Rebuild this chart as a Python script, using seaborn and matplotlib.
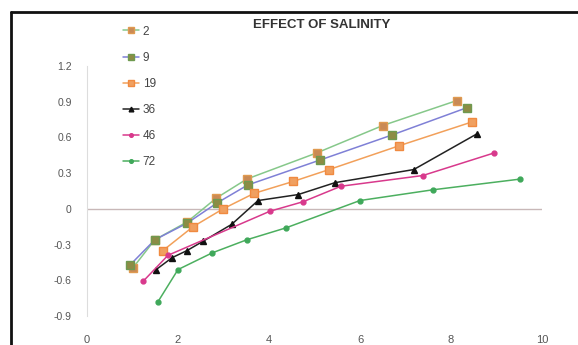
import matplotlib
matplotlib.use("Agg")
import matplotlib.pyplot as plt
import seaborn as sns
import pandas as pd
from matplotlib.lines import Line2D

sns.set_style("white")
plt.rcParams['font.family'] = ['Liberation Sans', 'DejaVu Sans']

# Data
labels = ["2", "9", "19", "36", "46", "72"]
x_2 = [1.0, 1.49, 2.2, 2.84, 3.51, 5.05, 6.5, 8.13]
y_2 = [-0.5, -0.26, -0.11, 0.09, 0.25, 0.47, 0.70, 0.91]
x_9 = [0.95, 1.49, 2.2, 2.86, 3.53, 5.12, 6.7, 8.35]
y_9 = [-0.47, -0.26, -0.12, 0.05, 0.20, 0.41, 0.62, 0.85]
x_19 = [1.67, 2.33, 2.99, 3.67, 4.53, 5.32, 6.86, 8.46]
y_19 = [-0.35, -0.15, 0.0, 0.13, 0.23, 0.33, 0.53, 0.73]
x_36 = [1.52, 1.87, 2.2, 2.56, 3.18, 3.76, 4.64, 5.45, 7.18, 8.57]
y_36 = [-0.51, -0.41, -0.35, -0.27, -0.13, 0.07, 0.12, 0.22, 0.33, 0.63]
x_46 = [1.23, 1.78, 4.02, 4.75, 5.58, 7.38, 8.95]
y_46 = [-0.61, -0.39, -0.02, 0.06, 0.19, 0.28, 0.47]
x_72 = [1.56, 2.0, 2.75, 3.51, 4.37, 6.0, 7.6, 9.52]
y_72 = [-0.78, -0.51, -0.37, -0.26, -0.16, 0.07, 0.16, 0.25]
x_ticks = [0, 2, 4, 6, 8, 10]
y_ticks = [-0.9, -0.6, -0.3, 0, 0.3, 0.6, 0.9, 1.2]
y_ticklabels = ["-0.9", "-0.6", "-0.3", "0", "0.3", "0.6", "0.9", "1.2"]
title = "EFFECT OF SALINITY"

xs = [x_2, x_9, x_19, x_36, x_46, x_72]
ys = [y_2, y_9, y_19, y_36, y_46, y_72]

line_colors = ["#86c88a", "#7f80d6", "#f2a05a", "#222222", "#d8398c", "#4caf5f"]
marker_styles = ["s", "s", "s", "^", "o", "o"]
marker_faces = ["#c98a55", "#8c8c45", "#f0a060", "#111111", "#d8398c", "#3fa85a"]
marker_edges = ["#e09a50", "#6f9a50", "#f08a40", "#111111", "#d8398c", "#3fa85a"]
marker_sizes = [5.5, 5.5, 5.5, 4.5, 3.5, 3.5]

fig = plt.figure(figsize=(5.78, 3.45), dpi=100)
W, H = 578, 345
ax = fig.add_axes([87 / W, 1 - 316 / H, 455 / W, (316 - 66) / H])

for lab, x, y, lc, m, mf, me, ms in zip(labels, xs, ys, line_colors, marker_styles,
                                        marker_faces, marker_edges, marker_sizes):
    df = pd.DataFrame({"x": x, "y": y})
    sns.lineplot(data=df, x="x", y="y", ax=ax, color=lc, lw=1.1, marker=m,
                 markersize=ms, markerfacecolor=mf, markeredgecolor=me,
                 markeredgewidth=1.0, sort=False, label=lab)

ax.axhline(0, color="#c8b8b8", lw=1.0, zorder=0)
ax.set_xlim(0, 10)
ax.set_ylim(-0.9, 1.2)
ax.set_xticks(x_ticks)
ax.set_yticks(y_ticks)
ax.set_yticklabels(y_ticklabels)
ax.set_xlabel("")
ax.set_ylabel("")
for s in ["top", "right", "bottom"]:
    ax.spines[s].set_visible(False)
ax.spines["left"].set_color("#dddddd")
ax.spines["left"].set_linewidth(0.8)
ax.tick_params(axis="y", length=3, color="#dddddd", labelsize=7.5, labelcolor="#555555", pad=8)
ax.tick_params(axis="x", length=0, labelsize=8, labelcolor="#555555", pad=14)
ax.set_facecolor("white")

fig.text(322 / W, 1 - 25 / H, title, ha="center", va="center",
         fontsize=9.5, fontweight="bold", color="#333333")

leg = ax.legend(loc="upper left", bbox_to_anchor=(112 / W, 1 - 15 / H),
                bbox_transform=fig.transFigure, frameon=False, fontsize=8.5,
                labelspacing=1.2, handlelength=1.4, handletextpad=0.3,
                markerscale=0.75)
for t in leg.get_texts():
    t.set_color("#444444")

# figure frame (left and top edges)
fig.add_artist(Line2D([11 / W, 11 / W], [0, 1 - 12 / H], transform=fig.transFigure,
                      color="#111111", lw=2))
fig.add_artist(Line2D([11 / W, 1], [1 - 12 / H, 1 - 12 / H], transform=fig.transFigure,
                      color="#111111", lw=2))

fig.savefig("out.png", dpi=100)
